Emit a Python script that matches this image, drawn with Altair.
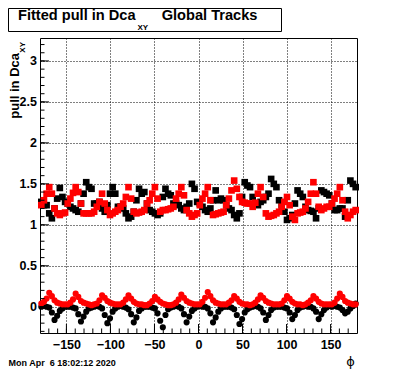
import altair as alt
import pandas as pd

# ---- data: 120 bins of 3 degrees in phi, 10 bins per 30-degree sector ----
PHI_START = -180.0
BIN_WIDTH = 3.0

# fitted sigma of pull (squares)
sigma_black = [
    1.28, 1.24, 1.24, 1.14, 1.08, 1.20, 1.32, 1.45, 1.34, 1.28,
    1.26, 1.22, 1.20, 1.18, 1.16, 1.26, 1.38, 1.52, 1.46, 1.44,
    1.26, 1.26, 1.28, 1.20, 1.16, 1.24, 1.38, 1.46, 1.38, 1.22,
    1.22, 1.20, 1.14, 1.08, 1.10, 1.16, 1.30, 1.44, 1.38, 1.40,
    1.26, 1.18, 1.16, 1.14, 1.12, 1.14, 1.34, 1.44, 1.38, 1.36,
    1.26, 1.26, 1.24, 1.20, 1.18, 1.22, 1.26, 1.50, 1.44, 1.28,
    1.26, 1.22, 1.18, 1.16, 1.20, 1.30, 1.42, 1.30, 1.32, 1.30,
    1.24, 1.20, 1.18, 1.12, 1.08, 1.14, 1.34, 1.52, 1.48, 1.46,
    1.34, 1.26, 1.24, 1.28, 1.30, 1.34, 1.38, 1.56, 1.50, 1.46,
    1.30, 1.24, 1.16, 1.06, 1.08, 1.12, 1.26, 1.42, 1.38, 1.34,
    1.22, 1.18, 1.17, 1.16, 1.08, 1.20, 1.42, 1.40, 1.38, 1.36,
    1.26, 1.18, 1.18, 1.20, 1.20, 1.10, 1.30, 1.54, 1.50, 1.46,
]
sigma_red = [
    1.24, 1.30, 1.38, 1.46, 1.38, 1.20, 1.14, 1.12, 1.14, 1.15,
    1.26, 1.32, 1.39, 1.46, 1.40, 1.26, 1.14, 1.14, 1.14, 1.14,
    1.16, 1.22, 1.28, 1.38, 1.26, 1.18, 1.12, 1.14, 1.16, 1.18,
    1.22, 1.26, 1.34, 1.46, 1.32, 1.16, 1.14, 1.15, 1.16, 1.18,
    1.26, 1.30, 1.38, 1.46, 1.32, 1.16, 1.18, 1.18, 1.19, 1.20,
    1.22, 1.32, 1.38, 1.46, 1.36, 1.18, 1.14, 1.10, 1.12, 1.14,
    1.24, 1.32, 1.38, 1.46, 1.30, 1.12, 1.13, 1.14, 1.15, 1.16,
    1.24, 1.32, 1.42, 1.54, 1.44, 1.34, 1.28, 1.27, 1.26, 1.26,
    1.22, 1.27, 1.38, 1.46, 1.34, 1.14, 1.10, 1.11, 1.12, 1.14,
    1.16, 1.22, 1.28, 1.34, 1.24, 1.10, 1.06, 1.14, 1.15, 1.16,
    1.20, 1.28, 1.38, 1.52, 1.38, 1.22, 1.18, 1.20, 1.22, 1.22,
    1.26, 1.32, 1.38, 1.46, 1.30, 1.16, 1.08, 1.12, 1.16, 1.18,
]
# fitted mean of pull (circles)
mean_black = [
    0.00, 0.01, 0.00, -0.01, -0.07, -0.16, -0.11, -0.05, -0.02, 0.00,
    0.00, 0.00, -0.01, -0.02, -0.09, -0.18, -0.12, -0.06, -0.02, -0.01,
    0.00, 0.01, 0.00, -0.02, -0.10, -0.20, -0.14, -0.06, -0.02, 0.00,
    0.01, 0.00, -0.01, -0.03, -0.09, -0.19, -0.13, -0.05, -0.02, 0.00,
    0.00, 0.00, -0.01, -0.02, -0.08, -0.17, -0.25, -0.10, -0.03, -0.01,
    0.00, 0.01, 0.00, -0.02, -0.09, -0.19, -0.12, -0.05, -0.02, 0.00,
    0.01, 0.00, 0.00, -0.02, -0.08, -0.19, -0.13, -0.06, -0.02, 0.00,
    0.00, 0.00, -0.01, -0.03, -0.10, -0.21, -0.15, -0.07, -0.03, -0.01,
    0.00, 0.01, 0.00, -0.02, -0.07, -0.16, -0.10, -0.04, -0.01, 0.00,
    0.00, 0.00, -0.01, -0.02, -0.07, -0.15, -0.10, -0.04, -0.01, 0.00,
    0.01, 0.00, 0.00, -0.02, -0.06, -0.15, -0.09, -0.04, -0.01, 0.01,
    0.00, 0.01, 0.00, -0.01, -0.04, -0.08, -0.06, -0.02, 0.01, 0.04,
]
mean_red = [
    0.04, 0.06, 0.10, 0.17, 0.13, 0.08, 0.05, 0.04, 0.03, 0.03,
    0.03, 0.05, 0.09, 0.16, 0.12, 0.07, 0.05, 0.04, 0.03, 0.02,
    0.03, 0.04, 0.08, 0.14, 0.11, 0.07, 0.05, 0.04, 0.03, 0.03,
    0.03, 0.05, 0.09, 0.14, 0.10, 0.06, 0.04, 0.03, 0.03, 0.02,
    0.02, 0.04, 0.07, 0.12, 0.09, 0.06, 0.04, 0.03, 0.02, 0.02,
    0.03, 0.05, 0.09, 0.15, 0.11, 0.07, 0.05, 0.04, 0.03, 0.03,
    0.03, 0.06, 0.11, 0.18, 0.13, 0.08, 0.05, 0.04, 0.03, 0.03,
    0.03, 0.05, 0.08, 0.13, 0.10, 0.06, 0.04, 0.03, 0.03, 0.02,
    0.03, 0.05, 0.09, 0.14, 0.11, 0.07, 0.05, 0.04, 0.03, 0.03,
    0.03, 0.04, 0.08, 0.13, 0.10, 0.06, 0.04, 0.03, 0.03, 0.02,
    0.03, 0.05, 0.08, 0.13, 0.10, 0.06, 0.04, 0.03, 0.03, 0.03,
    0.03, 0.05, 0.10, 0.16, 0.12, 0.07, 0.05, 0.04, 0.03, 0.03,
]

x_major = [-150, -100, -50, 0, 50, 100, 150]
x_minor = [-170, -160, -150, -140, -130, -120, -110, -100, -90, -80, -70, -60,
           -50, -40, -30, -20, -10, 0, 10, 20, 30, 40, 50, 60, 70, 80, 90,
           100, 110, 120, 130, 140, 150, 160, 170]
y_major = [0, 0.5, 1, 1.5, 2, 2.5, 3]
y_minor = [-0.3, -0.2, -0.1, 0, 0.1, 0.2, 0.3, 0.4, 0.5, 0.6, 0.7, 0.8, 0.9,
           1.0, 1.1, 1.2, 1.3, 1.4, 1.5, 1.6, 1.7, 1.8, 1.9, 2.0, 2.1, 2.2,
           2.3, 2.4, 2.5, 2.6, 2.7, 2.8, 2.9, 3.0, 3.1, 3.2]

title_main = "Fitted pull in Dca"
title_sub = "XY"
title_rest = "Global Tracks"
ytitle_main = "pull in Dca"
ytitle_sub = "XY"
xtitle = "\u03d5"
date_text = "Mon Apr \u00a06 18:02:12 2020"

phi = [PHI_START + BIN_WIDTH * (i + 0.5) for i in range(len(sigma_black))]
df = pd.DataFrame({
    "phi": phi,
    "sigma_black": sigma_black,
    "sigma_red": sigma_red,
    "mean_black": mean_black,
    "mean_red": mean_red,
})

W, H = 317, 295
FONT = "Liberation Sans"

xs = alt.Scale(domain=[-180, 180], nice=False, zero=False)
ys = alt.Scale(domain=[-0.32, 3.28], nice=False, zero=False)

xaxis = alt.Axis(values=x_major, format="d", title=None, grid=True,
                 gridColor="black", gridDash=[1, 2], gridOpacity=1, gridWidth=1,
                 ticks=False, tickSize=0, domain=False,
                 labelFont=FONT, labelFontWeight="bold", labelFontSize=12.5,
                 labelColor="black", labelPadding=15, labelBaseline="alphabetic",
                 labelFlush=False, labelOverlap=False)
yaxis = alt.Axis(values=y_major, format="~g", title=None, grid=True,
                 gridColor="black", gridDash=[1, 2], gridOpacity=1, gridWidth=1,
                 ticks=False, tickSize=0, domain=False,
                 labelFont=FONT, labelFontWeight="bold", labelFontSize=12.5,
                 labelColor="black", labelPadding=3.5,
                 labelFlush=False, labelOverlap=False)


def points(col, shape, color, size):
    return alt.Chart(df).mark_point(
        shape=shape, filled=True, size=size, color=color, opacity=1, strokeWidth=0
    ).encode(
        x=alt.X("phi:Q", scale=xs, axis=xaxis),
        y=alt.Y(f"{col}:Q", scale=ys, axis=yaxis),
    )


def yticks(vals, length):
    return alt.Chart(pd.DataFrame({"v": vals})).mark_rule(color="black", strokeWidth=1).encode(
        y=alt.Y("v:Q", scale=ys, axis=yaxis), x=alt.value(0), x2=alt.value(length)
    )


def xticks(vals, length):
    return alt.Chart(pd.DataFrame({"v": vals})).mark_rule(color="black", strokeWidth=1).encode(
        x=alt.X("v:Q", scale=xs, axis=xaxis), y=alt.value(H), y2=alt.value(H - length)
    )


one = pd.DataFrame({"a": [0]})


def label(text, x, y, size, weight="bold", angle=0, align="left", font=FONT):
    kw = dict(text=text, fontSize=size, fontWeight=weight, font=font, align=align,
              baseline="alphabetic", color="black")
    if angle:
        kw["angle"] = angle
    return alt.Chart(one).mark_text(**kw).encode(x=alt.value(x), y=alt.value(y))


# plot-area origin sits at page (40, 38); the svg starts at page (8, 8)
title_box = alt.Chart(one).mark_rect(fill="white", stroke="black", strokeWidth=1).encode(
    x=alt.value(-31.5), x2=alt.value(241.5), y=alt.value(-29.5), y2=alt.value(-6.5)
)

layers = [
    points("sigma_black", "square", "black", 44),
    points("sigma_red", "square", "#ff0000", 44),
    points("mean_black", "circle", "black", 38),
    points("mean_red", "circle", "#ff0000", 38),
    yticks(y_minor, 4.5),
    yticks(y_major, 9),
    xticks(x_minor, 4.5),
    xticks(x_major, 9),
    title_box,
    label(title_main, -22, -18, 14.6),
    label(title_sub, 97.5, -8.5, 8),
    label(title_rest, 121.7, -18, 14.6),
    label(ytitle_main, -21, 15, 13, angle=270, align="right"),
    label(ytitle_sub, -15, 4, 8, angle=270, align="right"),
    label(xtitle, 310.5, 328, 13, weight="normal", align="center", font="DejaVu Sans"),
    label(date_text, -31.5, 328, 9),
]

chart = alt.layer(*layers).properties(
    width=W, height=H,
    padding={"left": 32, "top": 30, "right": 31, "bottom": 39},
    autosize=alt.AutoSizeParams(type="none"),
    background="white",
).configure_view(stroke="black", strokeWidth=1, fill="white")

chart.save("out.html", embed_options={"renderer": "svg", "actions": False})
